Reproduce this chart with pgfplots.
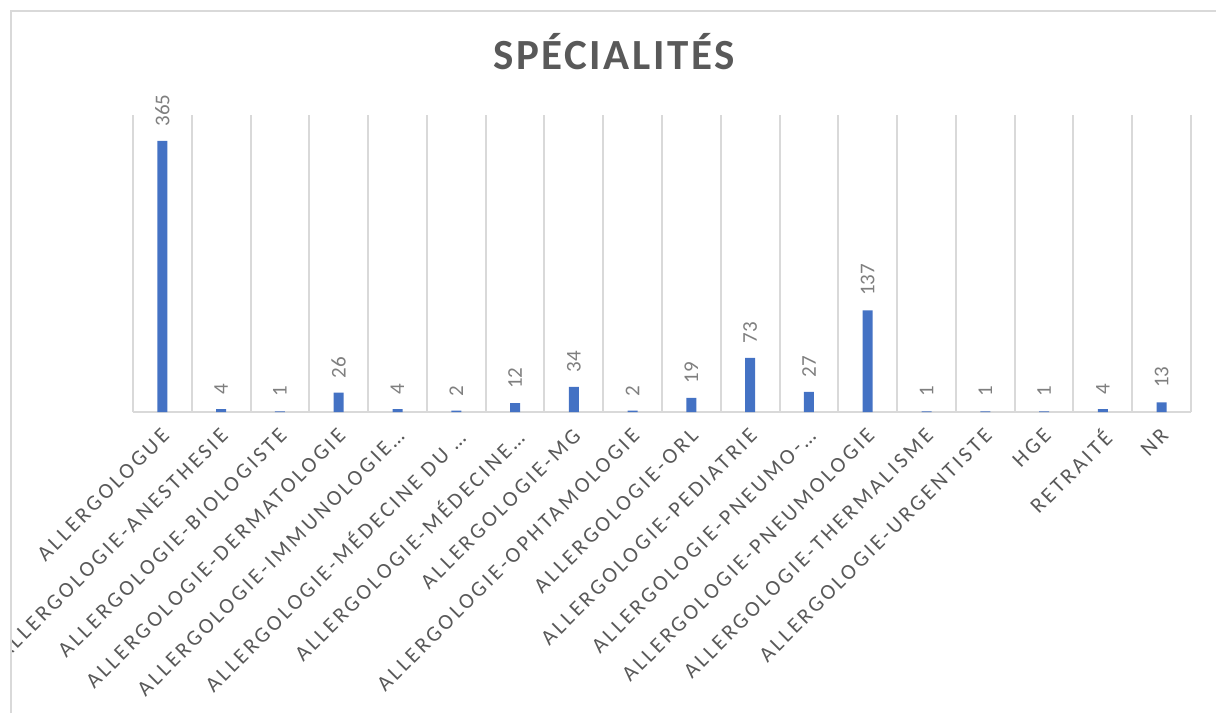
\documentclass[border=0pt]{standalone}
\usepackage{fontspec}
\setmainfont{Carlito}
\newfontfamily\tickfont{Carlito}[LetterSpace=14]
\newfontfamily\titlefont{Carlito}[LetterSpace=6]
\usepackage{pgfplots}
\pgfplotsset{compat=1.18}
\definecolor{barblue}{HTML}{4472C4}
\definecolor{gridgray}{HTML}{D9D9D9}
\definecolor{ticktext}{HTML}{595959}
\definecolor{datatext}{HTML}{7F7F7F}
\begin{document}
\begin{tikzpicture}
% 1 px of the reference = 0.5pt
\useasboundingbox (0,0) rectangle (608pt,356.5pt);
\begin{scope}
\clip (5.5pt,0) rectangle (608pt,351pt);
\begin{axis}[
    at={(66.5pt,150.5pt)}, anchor=south west,
    scale only axis,
    width=529pt, height=148.5pt,
    ybar, bar width=5pt,
    xmin=-0.5, xmax=17.5,
    ymin=0, ymax=400,
    axis x line*=bottom,
    axis y line=none,
    x axis line style={gridgray, line width=1pt, -},
    xtick={0,...,17},
    xticklabels={ALLERGOLOGUE, ALLERGOLOGIE-ANESTHESIE, ALLERGOLOGIE-BIOLOGISTE,
      ALLERGOLOGIE-DERMATOLOGIE, ALLERGOLOGIE-IMMUNOLOGIE…, ALLERGOLOGIE-MÉDECINE DU …,
      ALLERGOLOGIE-MÉDECINE…, ALLERGOLOGIE-MG, ALLERGOLOGIE-OPHTAMOLOGIE,
      ALLERGOLOGIE-ORL, ALLERGOLOGIE-PEDIATRIE, ALLERGOLOGIE-PNEUMO-…,
      ALLERGOLOGIE-PNEUMOLOGIE, ALLERGOLOGIE-THERMALISME, ALLERGOLOGIE-URGENTISTE,
      HGE, RETRAITÉ, NR},
    major tick length=0pt,
    minor tick length=0pt,
    minor xtick={-0.5,0.5,...,17.5},
    xminorgrids=true,
    minor x grid style={gridgray, line width=1pt},
    xticklabel style={yshift=-6pt, xshift=-1pt, rotate=45, anchor=north east, inner sep=1pt,
      font=\tickfont\fontsize{10.9}{12}\selectfont, text=ticktext},
    /pgf/number format/assume math mode=true,
    nodes near coords,
    every node near coord/.append style={rotate=90, anchor=west, inner xsep=7pt,
      font=\fontsize{10.5}{12}\selectfont, text=datatext},
  ]
  \addplot[fill=barblue, draw=none] coordinates {
    (0,365) (1,4) (2,1) (3,26) (4,4) (5,2) (6,12) (7,34) (8,2)
    (9,19) (10,73) (11,27) (12,137) (13,1) (14,1) (15,1) (16,4) (17,13)
  };
\end{axis}
\end{scope}
\draw[gridgray, line width=1pt] (5.5pt,0) -- (5.5pt,351pt) -- (608pt,351pt);
\node[anchor=base, font=\titlefont\bfseries\fontsize{21.5}{24}\selectfont, text=ticktext]
  at (307pt,321.5pt) {SPÉCIALITÉS};
\end{tikzpicture}
\end{document}
